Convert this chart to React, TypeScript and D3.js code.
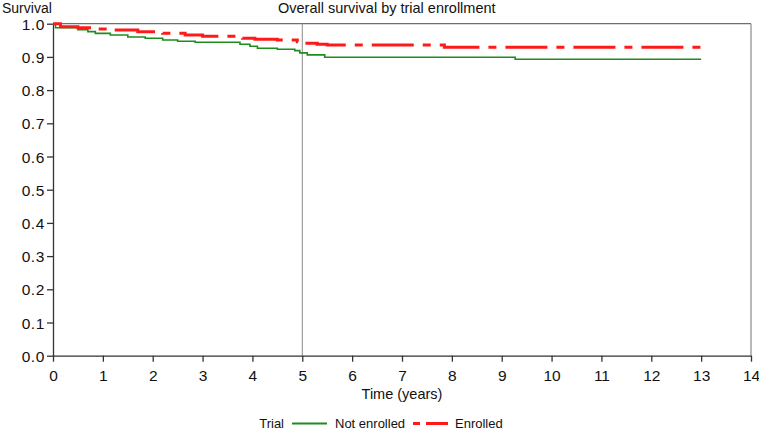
import React, { useEffect, useRef } from "react";
import * as d3 from "d3";

const title = "Overall survival by trial enrollment";
const yLabel = "Survival";
const xLabel = "Time (years)";
const legendTitle = "Trial";
const seriesNames = ["Not enrolled", "Enrolled"];

const xTicks = [0, 1, 2, 3, 4, 5, 6, 7, 8, 9, 10, 11, 12, 13, 14];
const yTicks = [0, 0.1, 0.2, 0.3, 0.4, 0.5, 0.6, 0.7, 0.8, 0.9, 1.0];
const refLineX = 5;

const notEnrolledTime = [0, 0.05, 0.5, 0.7, 0.85, 1.15, 1.5, 1.85, 2.2, 2.5, 2.85, 3.75, 3.95, 4.1, 4.5, 4.85, 4.95, 5.1, 5.45, 9.27, 13.0];
const notEnrolledSurv = [1.0, 0.988, 0.982, 0.976, 0.971, 0.966, 0.96, 0.956, 0.951, 0.947, 0.944, 0.938, 0.932, 0.926, 0.923, 0.919, 0.912, 0.906, 0.899, 0.893, 0.893];

const enrolledTime = [0, 0.15, 0.5, 0.85, 1.2, 1.7, 2.2, 2.65, 3.0, 3.8, 4.05, 4.5, 4.9, 5.05, 5.3, 5.5, 7.85, 13.0];
const enrolledSurv = [1.0, 0.991, 0.988, 0.984, 0.981, 0.976, 0.971, 0.966, 0.962, 0.956, 0.953, 0.951, 0.946, 0.941, 0.938, 0.936, 0.929, 0.929];

const W = 759;
const H = 430;
const FONT = "'Liberation Sans', Arial, Helvetica, sans-serif";

export default function App() {
  const ref = useRef<SVGSVGElement | null>(null);

  useEffect(() => {
    const svg = d3.select(ref.current);
    svg.selectAll("*").remove();

    const x = d3.scaleLinear().domain([0, 14]).range([53, 751]);
    const y = d3.scaleLinear().domain([0, 1]).range([355.7, 23.7]);

    // frame (top & right)
    svg.append("line").attr("x1", x(0)).attr("x2", x(14)).attr("y1", y(1)).attr("y2", y(1))
      .attr("stroke", "#6e6e6e").attr("stroke-width", 1.2);
    svg.append("line").attr("x1", x(14)).attr("x2", x(14)).attr("y1", y(1)).attr("y2", y(0))
      .attr("stroke", "#8a8a8a").attr("stroke-width", 1.2);

    // reference line
    svg.append("line").attr("x1", x(refLineX)).attr("x2", x(refLineX)).attr("y1", y(1)).attr("y2", y(0))
      .attr("stroke", "#8c8c8c").attr("stroke-width", 1);

    // x axis
    const xMinor = d3.range(0, 14.001, 0.2).filter(v => Math.abs(v - Math.round(v)) > 1e-6);
    const gx = svg.append("g").attr("transform", `translate(0,${y(0)})`);
    gx.call(d3.axisBottom(x).tickValues(xMinor).tickSize(3).tickFormat(() => ""));
    gx.call(d3.axisBottom(x).tickValues(xTicks).tickSize(6).tickSizeOuter(0).tickFormat(d3.format("d")) as any);
    gx.selectAll("path, line").attr("stroke", "#333").attr("stroke-width", 1.3);
    gx.selectAll("text").attr("font-family", FONT).attr("font-size", 15.5).attr("fill", "#111")
      .attr("dy", "0").attr("y", 25);

    // y axis
    const yMinor = d3.range(0, 1.0001, 0.025).filter(v => Math.abs(v * 10 - Math.round(v * 10)) > 1e-6);
    const gy = svg.append("g").attr("transform", `translate(${x(0)},0)`);
    gy.call(d3.axisLeft(y).tickValues(yMinor).tickSize(3).tickFormat(() => ""));
    gy.call(d3.axisLeft(y).tickValues(yTicks).tickSize(6).tickSizeOuter(0).tickFormat(d3.format(".1f")) as any);
    gy.selectAll("path, line").attr("stroke", "#333").attr("stroke-width", 1.3);
    gy.selectAll("text").attr("font-family", FONT).attr("font-size", 15.5).attr("fill", "#111")
      .attr("x", -8).attr("dy", "0.36em").attr("letter-spacing", "0.6px");

    // curves
    const line = d3.line<[number, number]>().x(d => x(d[0])).y(d => y(d[1])).curve(d3.curveStepAfter);
    const g1: [number, number][] = notEnrolledTime.map((t, i) => [t, notEnrolledSurv[i]]);
    const g2: [number, number][] = enrolledTime.map((t, i) => [t, enrolledSurv[i]]);
    svg.append("path").attr("d", line(g1)).attr("fill", "none").attr("stroke", "#1e8c1e").attr("stroke-width", 1.6);
    svg.append("path").attr("d", line(g2)).attr("fill", "none").attr("stroke", "#ff1a1a").attr("stroke-width", 3)
      .attr("stroke-dasharray", "42,9,8,9");

    // titles
    svg.append("text").attr("x", 278).attr("y", 13).text(title)
      .attr("font-family", FONT).attr("font-size", 14.5).attr("fill", "#111");
    svg.append("text").attr("x", 2).attr("y", 13).text(yLabel)
      .attr("font-family", FONT).attr("font-size", 14).attr("fill", "#111");
    svg.append("text").attr("x", x(7)).attr("y", 399).attr("text-anchor", "middle").text(xLabel)
      .attr("font-family", FONT).attr("font-size", 14.5).attr("fill", "#111");

    // legend
    const ly = 423.5;
    svg.append("text").attr("x", 284).attr("y", ly + 4.5).attr("text-anchor", "end").text(legendTitle)
      .attr("font-family", FONT).attr("font-size", 13).attr("fill", "#111");
    svg.append("line").attr("x1", 292).attr("x2", 327).attr("y1", ly).attr("y2", ly)
      .attr("stroke", "#1e8c1e").attr("stroke-width", 1.8);
    svg.append("text").attr("x", 335).attr("y", ly + 4.5).text(seriesNames[0])
      .attr("font-family", FONT).attr("font-size", 13).attr("fill", "#111");
    svg.append("line").attr("x1", 413).attr("x2", 448).attr("y1", ly).attr("y2", ly)
      .attr("stroke", "#ff1a1a").attr("stroke-width", 3).attr("stroke-dasharray", "7,6,22");
    svg.append("text").attr("x", 455).attr("y", ly + 4.5).text(seriesNames[1])
      .attr("font-family", FONT).attr("font-size", 13).attr("fill", "#111");
  }, []);

  return (
    <svg
      ref={ref}
      width={W}
      height={H}
      style={{ position: "absolute", left: 0, top: 0, background: "#fff" }}
    />
  );
}
